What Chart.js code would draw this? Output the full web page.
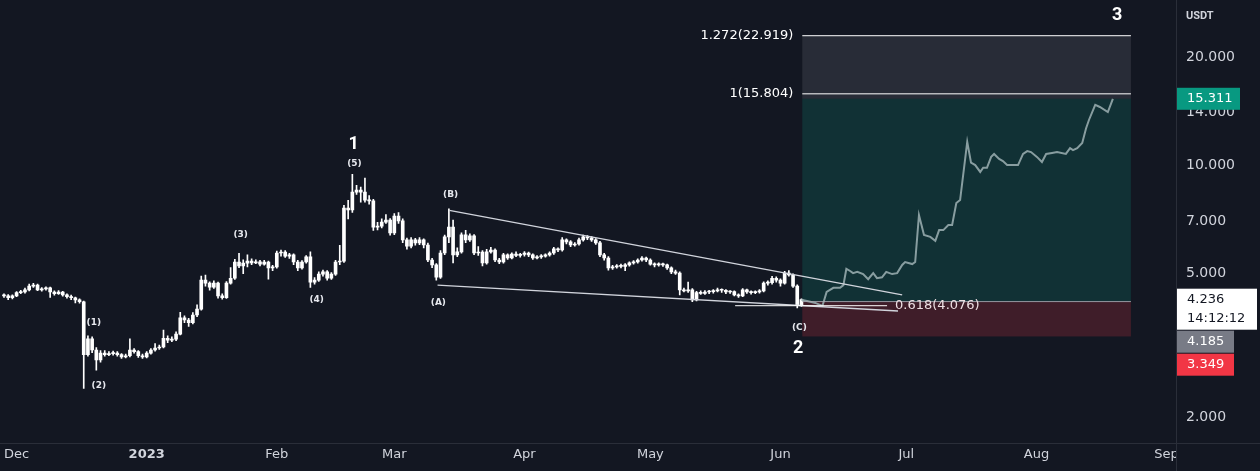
<!DOCTYPE html>
<html>
<head>
<meta charset="utf-8">
<script src="https://cdn.jsdelivr.net/npm/chart.js@4.4.0/dist/chart.umd.min.js"></script>
<style>
  html, body { margin: 0; padding: 0; background: #131722; }
</style>
</head>
<body>
<canvas id="chart" width="1260" height="471"></canvas>
<script>
// days counted from 2023-01-01, first candle is 2022-11-28
const firstDay = -34;

const opens = [
  4.36, 4.34, 4.29, 4.34, 4.43, 4.45, 4.51, 4.62, 4.65, 4.51,
  4.54, 4.57, 4.45, 4.40, 4.45, 4.37, 4.32, 4.29, 4.23, 4.18,
  2.98, 3.30, 3.07, 2.88, 3.01, 2.98, 3.00, 3.01, 2.98, 2.94,
  2.96, 3.07, 3.04, 2.96, 2.94, 3.01, 3.07, 3.11, 3.13, 3.31,
  3.27, 3.29, 3.40, 3.77, 3.72, 3.66, 3.84, 3.99, 4.80, 4.71,
  4.59, 4.71, 4.34, 4.29, 4.71, 4.86, 5.39, 5.26, 5.35, 5.42,
  5.36, 5.40, 5.32, 5.39, 5.19, 5.22, 5.71, 5.74, 5.60, 5.64,
  5.39, 5.19, 5.39, 5.57, 4.74, 4.80, 4.99, 5.06, 4.86, 4.99,
  5.39, 5.42, 7.61, 7.52, 8.43, 8.54, 8.43, 8.01, 7.97, 6.74,
  6.78, 6.96, 7.05, 6.49, 7.23, 7.01, 6.21, 5.97, 6.21, 6.09,
  6.21, 6.01, 5.46, 5.29, 4.89, 5.71, 6.33, 6.74, 5.64, 5.75,
  6.41, 6.21, 6.37, 5.71, 5.74, 5.36, 5.75, 5.82, 5.46, 5.39,
  5.64, 5.53, 5.67, 5.62, 5.66, 5.71, 5.64, 5.53, 5.57, 5.60,
  5.64, 5.71, 5.86, 5.82, 6.21, 6.13, 6.01, 6.05, 6.21, 6.33,
  6.29, 6.21, 6.09, 5.64, 5.53, 5.19, 5.22, 5.26, 5.24, 5.29,
  5.36, 5.39, 5.46, 5.53, 5.46, 5.32, 5.29, 5.32, 5.29, 5.19,
  5.06, 5.02, 4.51, 4.48, 4.51, 4.23, 4.43, 4.41, 4.45, 4.46,
  4.48, 4.51, 4.50, 4.45, 4.46, 4.37, 4.34, 4.51, 4.45, 4.43,
  4.45, 4.48, 4.71, 4.72, 4.86, 4.80, 4.71, 5.02, 4.96, 4.62,
  4.10
];
const highs = [
  4.40, 4.38, 4.37, 4.46, 4.50, 4.56, 4.68, 4.70, 4.68, 4.58,
  4.60, 4.59, 4.48, 4.49, 4.47, 4.40, 4.36, 4.31, 4.26, 4.20,
  3.36, 3.34, 3.12, 3.06, 3.06, 3.04, 3.05, 3.04, 3.00, 2.99,
  3.30, 3.10, 3.06, 2.99, 3.04, 3.10, 3.20, 3.17, 3.49, 3.36,
  3.34, 3.45, 3.91, 3.82, 3.76, 3.90, 4.10, 4.93, 4.96, 4.75,
  4.78, 4.74, 4.40, 4.76, 5.20, 5.48, 5.70, 5.47, 5.64, 5.50,
  5.47, 5.45, 5.45, 5.42, 5.28, 5.78, 5.82, 5.80, 5.70, 5.68,
  5.45, 5.44, 5.62, 5.75, 4.88, 5.06, 5.12, 5.10, 5.04, 5.45,
  6.00, 7.75, 8.00, 9.44, 8.80, 8.70, 9.22, 8.25, 8.05, 6.95,
  7.10, 7.30, 7.12, 7.35, 7.40, 7.10, 6.28, 6.30, 6.27, 6.30,
  6.25, 6.08, 5.52, 5.34, 5.80, 6.40, 7.57, 7.05, 5.90, 6.50,
  6.60, 6.45, 6.42, 5.95, 5.80, 5.85, 5.92, 5.86, 5.52, 5.70,
  5.68, 5.72, 5.75, 5.70, 5.76, 5.74, 5.68, 5.62, 5.65, 5.68,
  5.75, 5.92, 5.90, 6.30, 6.25, 6.18, 6.10, 6.28, 6.40, 6.38,
  6.34, 6.26, 6.15, 5.70, 5.58, 5.28, 5.30, 5.32, 5.34, 5.40,
  5.44, 5.50, 5.58, 5.56, 5.50, 5.36, 5.36, 5.35, 5.32, 5.23,
  5.12, 5.06, 4.56, 4.74, 4.55, 4.47, 4.48, 4.49, 4.50, 4.52,
  4.56, 4.54, 4.52, 4.49, 4.48, 4.40, 4.55, 4.53, 4.48, 4.48,
  4.52, 4.75, 4.78, 4.92, 4.90, 4.84, 5.08, 5.10, 5.00, 4.66,
  4.26
];
const lows = [
  4.30, 4.24, 4.26, 4.32, 4.40, 4.42, 4.48, 4.58, 4.49, 4.47,
  4.50, 4.30, 4.36, 4.38, 4.33, 4.28, 4.24, 4.15, 4.14, 2.40,
  2.95, 3.02, 2.70, 2.84, 2.95, 2.96, 2.97, 2.95, 2.91, 2.92,
  2.94, 3.01, 2.93, 2.91, 2.92, 2.99, 3.05, 3.08, 3.11, 3.22,
  3.24, 3.26, 3.38, 3.66, 3.57, 3.63, 3.80, 3.96, 4.62, 4.50,
  4.55, 4.28, 4.25, 4.27, 4.68, 4.82, 5.20, 5.00, 5.22, 5.30,
  5.33, 5.26, 5.28, 4.83, 5.10, 5.18, 5.60, 5.55, 5.52, 5.30,
  5.10, 5.15, 5.35, 4.58, 4.68, 4.76, 4.92, 4.80, 4.82, 4.95,
  5.30, 5.38, 7.10, 7.40, 8.30, 7.90, 7.90, 7.80, 6.60, 6.62,
  6.70, 6.90, 6.40, 6.42, 6.90, 6.10, 5.85, 5.90, 6.00, 6.02,
  5.90, 5.40, 5.20, 4.80, 4.85, 5.65, 6.10, 5.36, 5.58, 5.70,
  6.10, 6.15, 5.65, 5.62, 5.26, 5.32, 5.70, 5.40, 5.33, 5.35,
  5.48, 5.50, 5.58, 5.56, 5.60, 5.58, 5.48, 5.50, 5.52, 5.56,
  5.60, 5.66, 5.76, 5.78, 6.05, 5.95, 5.97, 6.00, 6.16, 6.22,
  6.15, 6.03, 5.58, 5.45, 5.12, 5.14, 5.18, 5.19, 5.10, 5.25,
  5.32, 5.35, 5.42, 5.40, 5.28, 5.22, 5.25, 5.24, 5.14, 5.00,
  4.98, 4.37, 4.45, 4.44, 4.18, 4.20, 4.38, 4.38, 4.40, 4.42,
  4.45, 4.44, 4.40, 4.41, 4.34, 4.30, 4.32, 4.41, 4.39, 4.40,
  4.42, 4.45, 4.65, 4.68, 4.74, 4.62, 4.68, 4.92, 4.58, 4.02,
  4.06
];
const closes = [
  4.34, 4.29, 4.34, 4.43, 4.45, 4.51, 4.62, 4.65, 4.51, 4.54,
  4.57, 4.45, 4.40, 4.45, 4.37, 4.32, 4.29, 4.23, 4.18, 2.98,
  3.30, 3.07, 2.88, 3.01, 2.98, 3.00, 3.01, 2.98, 2.94, 2.96,
  3.07, 3.04, 2.96, 2.94, 3.01, 3.07, 3.11, 3.13, 3.31, 3.27,
  3.29, 3.40, 3.77, 3.72, 3.66, 3.84, 3.99, 4.80, 4.71, 4.59,
  4.71, 4.34, 4.29, 4.71, 4.86, 5.39, 5.26, 5.35, 5.42, 5.36,
  5.40, 5.32, 5.39, 5.19, 5.22, 5.71, 5.74, 5.60, 5.64, 5.39,
  5.19, 5.39, 5.57, 4.74, 4.80, 4.99, 5.06, 4.86, 4.99, 5.39,
  5.42, 7.61, 7.52, 8.43, 8.54, 8.43, 8.01, 7.97, 6.74, 6.78,
  6.96, 7.05, 6.49, 7.23, 7.01, 6.21, 5.97, 6.21, 6.09, 6.21,
  6.01, 5.46, 5.29, 4.89, 5.71, 6.33, 6.74, 5.64, 5.75, 6.41,
  6.21, 6.37, 5.71, 5.74, 5.36, 5.75, 5.82, 5.46, 5.39, 5.64,
  5.53, 5.67, 5.62, 5.66, 5.71, 5.64, 5.53, 5.57, 5.60, 5.64,
  5.71, 5.86, 5.82, 6.21, 6.13, 6.01, 6.05, 6.21, 6.33, 6.29,
  6.21, 6.09, 5.64, 5.53, 5.19, 5.22, 5.26, 5.24, 5.29, 5.36,
  5.39, 5.46, 5.53, 5.46, 5.32, 5.29, 5.32, 5.29, 5.19, 5.06,
  5.02, 4.51, 4.48, 4.51, 4.23, 4.43, 4.41, 4.45, 4.46, 4.48,
  4.51, 4.50, 4.45, 4.46, 4.37, 4.34, 4.51, 4.45, 4.43, 4.45,
  4.48, 4.71, 4.72, 4.86, 4.80, 4.71, 5.02, 4.96, 4.62, 4.10,
  4.236
];

// projected path drawn after the last candle
const projDays = [
  156, 158.1, 159.3, 161, 162, 163.6, 165.2, 166, 166.7, 167.6,
  168.3, 169.3, 170.7, 171.9, 173.1, 174, 175.2, 176.2, 177.6, 178.8,
  180, 180.7, 182.4, 183.1, 184, 185.2, 186.7, 187.9, 188.8, 189.8,
  191, 191.9, 192.9, 193.8, 195.5, 196.4, 197.4, 198.6, 199.3, 200.2,
  201.2, 201.9, 203.1, 204, 205, 207.6, 208.8, 209.8, 210.7, 212.1,
  213.3, 214.3, 215.7, 216.9, 219, 220, 220.7, 221.7, 222.9, 223.8,
  224.5, 226, 227.1, 229, 230.2
];
const projPrices = [
  4.236, 4.18, 4.15, 4.07, 4.45, 4.57, 4.57, 4.65, 5.16, 5.09,
  5.02, 5.06, 4.99, 4.83, 5.02, 4.86, 4.89, 5.06, 4.99, 5.02,
  5.29, 5.39, 5.32, 5.39, 7.28, 6.41, 6.33, 6.17, 6.61, 6.61,
  6.83, 6.83, 7.86, 8.01, 11.62, 10.18, 10.02, 9.59, 9.85, 9.85,
  10.56, 10.76, 10.42, 10.28, 10.02, 10.02, 10.76, 10.96, 10.89, 10.56,
  10.22, 10.76, 10.83, 10.89, 10.76, 11.17, 11.03, 11.17, 11.54, 12.66,
  13.37, 14.72, 14.53, 14.07, 15.311
];

// axes
const monthDays = [-31, 0, 31, 59, 90, 120, 151, 181, 212, 243];
const monthLabels = ['Dec', '2023', 'Feb', 'Mar', 'Apr', 'May', 'Jun', 'Jul', 'Aug', 'Sep'];
const priceTicks = [2, 5, 7, 10, 14, 20];

// long position + fib levels
const lastPrice = 4.236;
const lastTime = '14:12:12';
const target = 15.311;
const entry = 4.185;
const stop = 3.349;
const boxDays = [156.2, 234.5];
const fibLabels = ['1.272(22.919)', '1(15.804)', '0.618(4.076)'];
const fibPrices = [22.919, 15.804, 4.076];
const fib618Days = [140.2, 176.4];

// wedge (day, price) ends
const wedgeUpper = [[72.1, 7.50], [180, 4.37]];
const wedgeLower = [[69.3, 4.65], [179, 3.94]];

// wave counts
const waveText = ['(1)', '(2)', '(3)', '(4)', '(5)', '(A)', '(B)', '(C)'];
const waveDays = [-12.6, -11.4, 22.4, 40.5, 49.5, 69.5, 72.4, 155.5];
const wavePrices = [3.65, 2.45, 6.41, 4.25, 10.1, 4.16, 8.28, 3.55];
const bigText = ['1', '2', '3'];
const bigDays = [49.3, 155.2, 231.2];
const bigPrices = [11.46, 3.11, 26.0];

const bg = '#131722';
const axisColor = '#2a2e39';
const textColor = '#d1d4dc';
const font = 'DejaVu Sans';

Chart.defaults.font.family = font;

const candleDays = closes.map((c, i) => firstDay + i);

const overlay = {
    id: 'overlay',
    beforeDraw(chart) {
        const c = chart.ctx;
        c.save();
        c.fillStyle = bg;
        c.fillRect(0, 0, chart.width, chart.height);
        c.restore();
    },
    beforeDatasetsDraw(chart) {
        const c = chart.ctx, X = chart.scales.x, Y = chart.scales.y;
        const x0 = X.getPixelForValue(boxDays[0]), x1 = X.getPixelForValue(boxDays[1]);
        const band = (a, b, col) => {
            const ya = Y.getPixelForValue(a), yb = Y.getPixelForValue(b);
            c.fillStyle = col;
            c.fillRect(x0, ya, x1 - x0, yb - ya);
        };
        c.save();
        band(fibPrices[0], target, 'rgba(120,123,134,0.22)');
        band(target, entry, 'rgba(8,153,129,0.2)');
        band(entry, stop, 'rgba(242,54,69,0.2)');
        c.restore();
    },
    afterDatasetsDraw(chart) {
        const c = chart.ctx, X = chart.scales.x, Y = chart.scales.y;
        const seg = (d0, v0, d1, v1, col, w) => {
            c.strokeStyle = col;
            c.lineWidth = w;
            c.beginPath();
            c.moveTo(X.getPixelForValue(d0), Y.getPixelForValue(v0));
            c.lineTo(X.getPixelForValue(d1), Y.getPixelForValue(v1));
            c.stroke();
        };
        c.save();
        // entry line of the position
        seg(boxDays[0], entry, boxDays[1], entry, 'rgba(170,172,180,0.85)', 1);
        // wedge
        seg(wedgeUpper[0][0], wedgeUpper[0][1], wedgeUpper[1][0], wedgeUpper[1][1], '#d1d4dc', 1.3);
        seg(wedgeLower[0][0], wedgeLower[0][1], wedgeLower[1][0], wedgeLower[1][1], '#d1d4dc', 1.3);
        // fib levels
        seg(boxDays[0], fibPrices[0], boxDays[1], fibPrices[0], '#ffffff', 1);
        seg(boxDays[0], fibPrices[1], boxDays[1], fibPrices[1], '#ffffff', 1);
        seg(fib618Days[0], fibPrices[2], fib618Days[1], fibPrices[2], '#ffffff', 1);

        c.textBaseline = 'middle';
        c.font = '13px ' + font;
        c.fillStyle = '#ffffff';
        c.textAlign = 'right';
        const lx = X.getPixelForValue(boxDays[0]) - 9;
        c.fillText(fibLabels[0], lx, Y.getPixelForValue(fibPrices[0]));
        c.fillText(fibLabels[1], lx, Y.getPixelForValue(fibPrices[1]));
        c.textAlign = 'left';
        c.fillStyle = '#eddfe3';
        c.fillText(fibLabels[2], X.getPixelForValue(fib618Days[1]) + 8, Y.getPixelForValue(fibPrices[2]));

        // wave labels
        c.textAlign = 'center';
        c.fillStyle = '#e6e8ee';
        c.font = 'bold 9px ' + font;
        waveText.forEach((t, i) => c.fillText(t, X.getPixelForValue(waveDays[i]), Y.getPixelForValue(wavePrices[i])));
        c.fillStyle = '#ffffff';
        c.font = 'bold 18px Roboto';
        bigText.forEach((t, i) => c.fillText(t, X.getPixelForValue(bigDays[i]), Y.getPixelForValue(bigPrices[i])));
        c.restore();
    },
    afterDraw(chart) {
        const c = chart.ctx, Y = chart.scales.y, area = chart.chartArea;
        c.save();
        // hide the part of the last month label under the price axis
        c.fillStyle = bg;
        c.fillRect(area.right, area.bottom + 1, chart.width - area.right, chart.height - area.bottom);
        // axis frame
        c.strokeStyle = axisColor;
        c.lineWidth = 1;
        c.beginPath();
        c.moveTo(area.right + 0.5, 0);
        c.lineTo(area.right + 0.5, chart.height);
        c.moveTo(0, area.bottom + 0.5);
        c.lineTo(chart.width, area.bottom + 0.5);
        c.stroke();

        // price scale labels
        c.textAlign = 'left';
        c.textBaseline = 'middle';
        c.fillStyle = textColor;
        c.font = '14px ' + font;
        priceTicks.forEach(v => c.fillText(v.toFixed(3), area.right + 10, Y.getPixelForValue(v)));

        c.font = 'bold 11px Roboto';
        c.fillText('USDT', area.right + 10, 16);

        const tx = area.right + 1, pad = 10;
        const tag = (top, w, h, fill, col, lines) => {
            c.fillStyle = fill;
            c.fillRect(tx, top, w, h);
            c.fillStyle = col;
            c.font = '13px ' + font;
            lines.forEach((t, i) => c.fillText(t, tx + pad, top + 11 + i * 19));
        };
        tag(Y.getPixelForValue(target) - 11, 63, 22, '#089981', '#ffffff', [target.toFixed(3)]);
        const wTop = Y.getPixelForValue(lastPrice) - 11;
        tag(wTop, 80, 41, '#ffffff', bg, [lastPrice.toFixed(3), lastTime]);
        tag(wTop + 42, 57, 22, '#787b86', '#ffffff', [entry.toFixed(3)]);
        tag(wTop + 65, 57, 22, '#f23645', '#ffffff', [stop.toFixed(3)]);
        c.restore();
    }
};

new Chart(document.getElementById('chart'), {
    type: 'bar',
    data: {
        datasets: [
            {
                type: 'line',
                data: projDays.map((d, i) => ({x: d, y: projPrices[i]})),
                borderColor: 'rgba(150,170,172,0.9)',
                borderWidth: 2,
                pointRadius: 0,
                tension: 0,
                order: 0
            },
            {
                data: candleDays.map((d, i) => ({x: d, y: [lows[i], highs[i]]})),
                backgroundColor: '#ffffff',
                barThickness: 1,
                grouped: false,
                order: 2
            },
            {
                data: candleDays.map((d, i) => ({x: d, y: [opens[i], closes[i]]})),
                backgroundColor: '#ffffff',
                barThickness: 3,
                minBarLength: 1,
                grouped: false,
                order: 1
            }
        ]
    },
    options: {
        responsive: false,
        animation: false,
        layout: {padding: 0},
        plugins: {
            legend: {display: false},
            tooltip: {enabled: false}
        },
        scales: {
            x: {
                type: 'linear',
                min: -34.76,
                max: 245.24,
                bounds: 'data',
                offset: false,
                grid: {display: false, drawTicks: false},
                border: {display: false},
                afterBuildTicks: s => { s.ticks = monthDays.map(v => ({value: v})); },
                afterFit: s => { s.height = 28; },
                ticks: {
                    color: textColor,
                    padding: 4,
                    autoSkip: false,
                    maxRotation: 0,
                    font: c => ({family: font, size: 13, weight: (c.tick && c.tick.value === 0) ? 'bold' : 'normal'}),
                    callback: v => monthLabels[monthDays.indexOf(v)]
                }
            },
            y: {
                type: 'logarithmic',
                position: 'right',
                min: 1.694,
                max: 28.8,
                bounds: 'data',
                grid: {display: false, drawTicks: false},
                border: {display: false},
                afterBuildTicks: s => { s.ticks = priceTicks.map(v => ({value: v})); },
                afterFit: s => { s.width = 84; },
                ticks: {display: false}
            }
        }
    },
    plugins: [overlay]
});
</script>
</body>
</html>
